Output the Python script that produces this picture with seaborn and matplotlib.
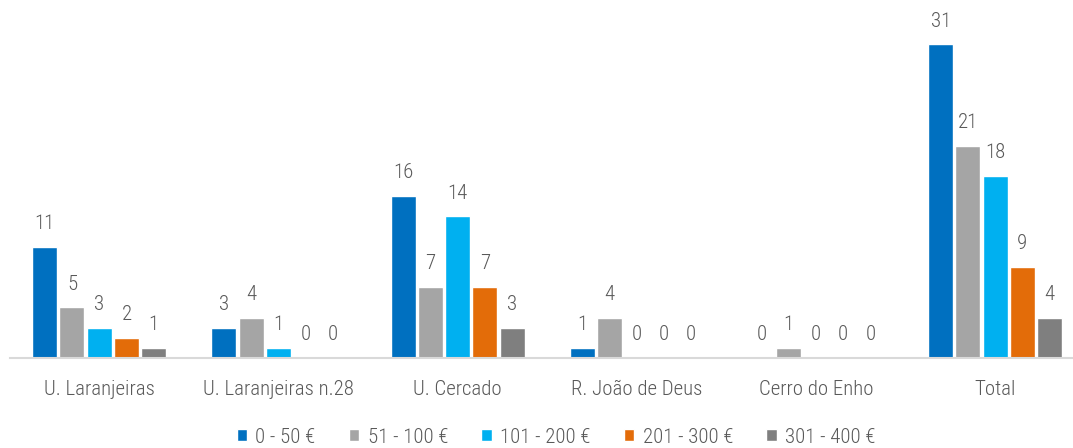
import matplotlib
matplotlib.use("Agg")
import matplotlib.pyplot as plt
import pandas as pd
import seaborn as sns
from matplotlib import font_manager

categories = ["U. Laranjeiras", "U. Laranjeiras n.28", "U. Cercado",
              "R. João de Deus", "Cerro do Enho", "Total"]
series = ["0 - 50 €", "51 - 100 €", "101 - 200 €", "201 - 300 €", "301 - 400 €"]
v_0_50 = [11, 3, 16, 1, 0, 31]
v_51_100 = [5, 4, 7, 4, 1, 21]
v_101_200 = [3, 1, 14, 0, 0, 18]
v_201_300 = [2, 0, 7, 0, 0, 9]
v_301_400 = [1, 0, 3, 0, 0, 4]
colors = ["#0070C0", "#A5A5A5", "#00B0F0", "#E36C09", "#7F7F7F"]

rows = []
for name, vals in zip(series, [v_0_50, v_51_100, v_101_200, v_201_300, v_301_400]):
    for cat, v in zip(categories, vals):
        rows.append({"Local": cat, "Escalão": name, "Valor": v})
df = pd.DataFrame(rows)


def main():
    sns.set_theme(style="white")
    names = {f.name for f in font_manager.fontManager.ttflist}
    fam = ["Liberation Sans Narrow", "Roboto Condensed", "DejaVu Sans"]
    plt.rcParams["font.family"] = [f for f in fam if f in names] or ["DejaVu Sans"]
    plt.rcParams["font.weight"] = "light"
    text_color = "#595959"
    fs = 15

    fig = plt.figure(figsize=(10.73, 4.48), dpi=100)
    # axes in pixel terms: x 10..1085, baseline at y=358, top at y=4
    ax = fig.add_axes([9.6 / 1073, (448 - 358) / 448, 1075.2 / 1073, 354 / 448])

    sns.barplot(data=df, x="Local", y="Valor", hue="Escalão", palette=colors,
                width=0.76, gap=0.08, saturation=1, ax=ax, legend=True)

    ax.set_ylim(0, 35)
    ax.set_xlim(-0.5, 5.5)
    for cont in ax.containers:
        ax.bar_label(cont, fmt="%d", padding=10, fontsize=fs, color=text_color)

    for s in ["top", "right", "left"]:
        ax.spines[s].set_visible(False)
    ax.spines["bottom"].set_color("#D9D9D9")
    ax.spines["bottom"].set_linewidth(1.5)
    ax.set_yticks([])
    ax.set_xlabel("")
    ax.set_ylabel("")
    ax.tick_params(axis="x", length=0, pad=16, labelsize=fs, labelcolor=text_color)

    handles, labels = ax.get_legend_handles_labels()
    ax.legend_.remove()
    fig.legend(handles, labels, loc="center", bbox_to_anchor=(556 / 1073, (448 - 437) / 448),
               ncol=5, frameon=False, fontsize=fs, labelcolor=text_color,
               handlelength=0.5, handleheight=0.5, handletextpad=0.4, columnspacing=1.6)

    fig.savefig("out.png", dpi=100)


if __name__ == "__main__":
    main()
